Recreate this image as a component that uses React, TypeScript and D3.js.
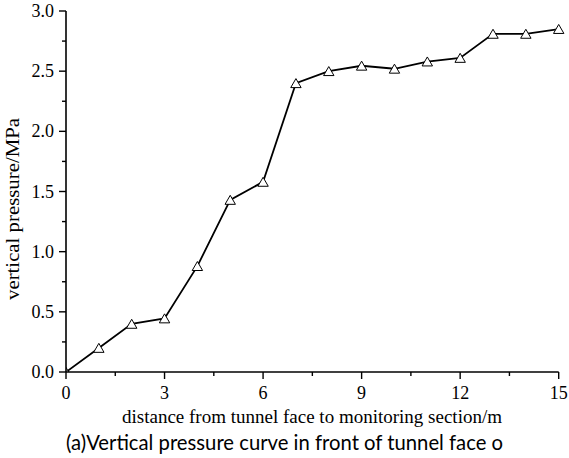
import React from "react";
import * as d3 from "d3";

const distance = [0, 1, 2, 3, 4, 5, 6, 7, 8, 9, 10, 11, 12, 13, 14, 15];
const pressure = [0, 0.2, 0.4, 0.445, 0.88, 1.43, 1.58, 2.4, 2.5, 2.545, 2.52, 2.58, 2.61, 2.81, 2.81, 2.85];
const xMajorTicks = [0, 3, 6, 9, 12, 15];
const xMinorTicks = [1.5, 4.5, 7.5, 10.5, 13.5];
const yMajorTicks = [0, 0.5, 1.0, 1.5, 2.0, 2.5, 3.0];
const yMinorTicks = [0.25, 0.75, 1.25, 1.75, 2.25, 2.75];
const xTitle = "distance from tunnel face to monitoring section/m";
const yTitle = "vertical pressure/MPa";
const caption = "(a)Vertical pressure curve in front of tunnel face o";

const W = 569;
const H = 458;
const L = 66;
const R = 558.7;
const T = 11;
const B = 372;

export default function App() {
  const x = d3.scaleLinear().domain([0, 15]).range([L, R]);
  const y = d3.scaleLinear().domain([0, 3]).range([B, T]);
  const pts = distance.map((d, i) => [d, pressure[i]] as [number, number]);
  const line = d3
    .line<[number, number]>()
    .x((d) => x(d[0]))
    .y((d) => y(d[1]));
  const serif = "'Liberation Serif', 'Times New Roman', serif";
  const tri = "M0,-4.6L5.2,4.4L-5.2,4.4Z";
  return (
    <div style={{ position: "absolute", left: 0, top: 0 }}>
      <svg width={W} height={H} style={{ display: "block", background: "#fff" }}>
        <defs>
          <clipPath id="plotclip">
            <rect x={L} y={T - 10} width={R - L + 10} height={B - T + 10} />
          </clipPath>
        </defs>
        <g clipPath="url(#plotclip)">
          <path d={line(pts) || ""} fill="none" stroke="#000" strokeWidth={1.8} />
          {pts.map((p, i) => (
            <path
              key={i}
              d={tri}
              transform={`translate(${x(p[0])},${y(p[1])})`}
              fill="#fff"
              stroke="#000"
              strokeWidth={1}
            />
          ))}
        </g>
        <line x1={L} x2={L} y1={T} y2={B} stroke="#000" strokeWidth={1.6} />
        <line x1={L} x2={R} y1={B} y2={B} stroke="#000" strokeWidth={1.6} />
        {yMajorTicks.map((v) => (
          <g key={"ym" + v}>
            <line x1={L - 7} x2={L} y1={y(v)} y2={y(v)} stroke="#000" strokeWidth={1.4} />
            <text x={54} y={y(v) + 6} textAnchor="end" fontFamily={serif} fontSize={18} fill="#000">
              {v.toFixed(1)}
            </text>
          </g>
        ))}
        {yMinorTicks.map((v) => (
          <line key={"yn" + v} x1={L - 4} x2={L} y1={y(v)} y2={y(v)} stroke="#000" strokeWidth={1.4} />
        ))}
        {xMajorTicks.map((v) => (
          <g key={"xm" + v}>
            <line x1={x(v)} x2={x(v)} y1={B} y2={B + 7} stroke="#000" strokeWidth={1.4} />
            <text x={x(v)} y={399} textAnchor="middle" fontFamily={serif} fontSize={18} fill="#000">
              {v}
            </text>
          </g>
        ))}
        {xMinorTicks.map((v) => (
          <line key={"xn" + v} x1={x(v)} x2={x(v)} y1={B} y2={B + 4} stroke="#000" strokeWidth={1.4} />
        ))}
        <text
          x={122}
          y={423}
          fontFamily={serif}
          fontSize={19.5}
          textLength={380}
          lengthAdjust="spacingAndGlyphs"
          fill="#000"
        >
          {xTitle}
        </text>
        <text
          transform={`translate(19,300) rotate(-90)`}
          x={0}
          y={0}
          fontFamily={serif}
          fontSize={19.5}
          textLength={182}
          lengthAdjust="spacingAndGlyphs"
          fill="#000"
        >
          {yTitle}
        </text>
        <text
          x={66}
          y={450}
          fontFamily="Lato, 'Open Sans', sans-serif"
          fontSize={21}
          textLength={437}
          lengthAdjust="spacingAndGlyphs"
          fill="#000"
        >
          {caption}
        </text>
      </svg>
    </div>
  );
}
